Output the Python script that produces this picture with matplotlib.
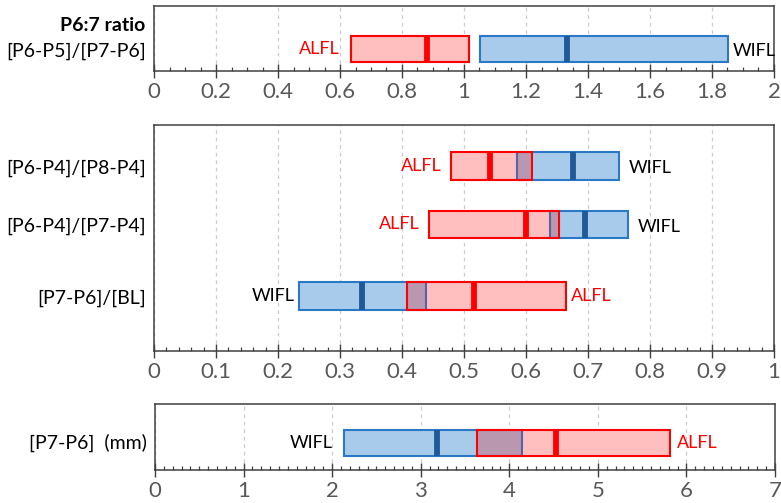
import matplotlib
matplotlib.use("Agg")
import matplotlib.pyplot as plt
from matplotlib.patches import Rectangle
from matplotlib.ticker import MultipleLocator, FuncFormatter

plt.rcParams['font.family'] = ['Lato', 'DejaVu Sans']

# ---- data: (lower quartile, median, upper quartile) ----
ratio_label = "[P6-P5]/[P7-P6]"
ratio_alfl = (0.635, 0.88, 1.015)
ratio_wifl = (1.052, 1.332, 1.853)

mid_labels = ["[P6-P4]/[P8-P4]", "[P6-P4]/[P7-P4]", "[P7-P6]/[BL]"]
mid_alfl = [(0.479, 0.542, 0.609), (0.444, 0.600, 0.653), (0.408, 0.516, 0.664)]
mid_wifl = [(0.585, 0.675, 0.750), (0.639, 0.695, 0.764), (0.234, 0.335, 0.438)]

mm_label = "[P7-P6]  (mm)"
mm_alfl = (3.64, 4.53, 5.815)
mm_wifl = (2.134, 3.18, 4.14)

# ---- styling ----
RED = "#ff0000"
PINK = "#ffbfbf"
BLUE_EDGE = "#2a78c6"
BLUE_FILL = "#a8cbec"
BLUE_MED = "#1f5a96"
PURPLE = "#b997ae"
PURPLE_EDGE = "#5f5f9e"
TICK_GREY = "#595959"
SPINE = "#404040"

W, H = 781, 503
fig = plt.figure(figsize=(W / 100, H / 100), dpi=100)


def axes_px(left, top, right, bottom):
    return fig.add_axes([left / W, 1 - bottom / H, (right - left) / W, (bottom - top) / H])


def style_axes(ax, xmax, major, minor):
    ax.set_xlim(0, xmax)
    ax.set_ylim(0, 1)
    ax.xaxis.set_major_locator(MultipleLocator(major))
    ax.xaxis.set_minor_locator(MultipleLocator(minor))
    ax.xaxis.set_major_formatter(FuncFormatter(lambda v, p: f"{v:g}"))
    ax.tick_params(axis='x', which='major', direction='inout', length=9.5, width=1.0,
                   color=SPINE, labelsize=16, labelcolor=TICK_GREY, pad=3.5)
    ax.tick_params(axis='x', which='minor', direction='in', length=3.2, width=0.9, color=SPINE)
    ax.set_yticks([])
    ax.grid(axis='x', which='major', linestyle=(0, (3, 3)), color="#cccccc", linewidth=0.9)
    ax.set_axisbelow(True)
    for s in ax.spines.values():
        s.set_color(SPINE)
        s.set_linewidth(1.1)


def draw_pair(ax, y, h, alfl, wifl, gaps):
    # fills
    ax.add_patch(Rectangle((wifl[0], y - h / 2), wifl[2] - wifl[0], h,
                           facecolor=BLUE_FILL, edgecolor='none', zorder=2))
    ax.add_patch(Rectangle((alfl[0], y - h / 2), alfl[2] - alfl[0], h,
                           facecolor=PINK, edgecolor='none', zorder=2))
    lo, hi = max(alfl[0], wifl[0]), min(alfl[2], wifl[2])
    if hi > lo:
        ax.add_patch(Rectangle((lo, y - h / 2), hi - lo, h,
                               facecolor=PURPLE, edgecolor='none', zorder=3))
    # outlines
    ax.add_patch(Rectangle((wifl[0], y - h / 2), wifl[2] - wifl[0], h,
                           facecolor='none', edgecolor=BLUE_EDGE, linewidth=1.5, zorder=4))
    if hi > lo:
        edge_x = wifl[0] if alfl[0] < wifl[0] else wifl[2]
        ax.plot([edge_x, edge_x], [y - h / 2, y + h / 2], color=PURPLE_EDGE,
                linewidth=1.2, zorder=5)
    ax.add_patch(Rectangle((alfl[0], y - h / 2), alfl[2] - alfl[0], h,
                           facecolor='none', edgecolor=RED, linewidth=1.5, zorder=6))
    # medians
    ax.plot([wifl[1]] * 2, [y - h / 2, y + h / 2], color=BLUE_MED, linewidth=4.2,
            solid_capstyle='butt', zorder=7)
    ax.plot([alfl[1]] * 2, [y - h / 2, y + h / 2], color=RED, linewidth=4.2,
            solid_capstyle='butt', zorder=7)
    # species names on the outer side of each box
    alfl_left = alfl[1] < wifl[1]
    g_left, g_right = gaps
    if alfl_left:
        ax.annotate("ALFL", (alfl[0], y), xytext=(-g_left, 0), textcoords='offset points',
                    ha='right', va='center', color=RED, fontsize=13)
        ax.annotate("WIFL", (wifl[2], y), xytext=(g_right, -1.5), textcoords='offset points',
                    ha='left', va='center', color='black', fontsize=13)
    else:
        ax.annotate("WIFL", (wifl[0], y), xytext=(-g_left, 0), textcoords='offset points',
                    ha='right', va='center', color='black', fontsize=13)
        ax.annotate("ALFL", (alfl[2], y), xytext=(g_right, 0), textcoords='offset points',
                    ha='left', va='center', color=RED, fontsize=13)


def row_label(ax, y, text, **kw):
    ax.annotate(text, (0, y), xycoords=('axes fraction', 'data'), xytext=(-6, 0),
                textcoords='offset points', ha='right', va='center', fontsize=14, **kw)


# ---- top panel: P6:7 ratio ----
ax1 = axes_px(154, 6, 774, 71)
style_axes(ax1, 2, 0.2, 0.05)
y_top, h_top = 0.335, 0.40
draw_pair(ax1, y_top, h_top, ratio_alfl, ratio_wifl, gaps=(8, 3))
ax1.annotate("P6:7 ratio", (0, 0.70), xycoords='axes fraction', xytext=(-6, 0),
             textcoords='offset points', ha='right', va='center', fontsize=14, fontweight='bold')
row_label(ax1, 0.31, ratio_label)

# ---- middle panel: length ratios ----
ax2 = axes_px(154, 125, 774, 351)
style_axes(ax2, 1, 0.1, 0.02)
mid_y = [0.819, 0.560, 0.245]
h_mid = 0.123
mid_gaps = [(7, 7), (7, 7), (3, 4)]
for lab, yy, a, w, g in zip(mid_labels, mid_y, mid_alfl, mid_wifl, mid_gaps):
    draw_pair(ax2, yy, h_mid, a, w, gaps=g)
    row_label(ax2, yy - 0.01, lab)

# ---- bottom panel: absolute distance ----
ax3 = axes_px(155, 404, 775, 470)
style_axes(ax3, 7, 1, 0.1)
y_bot, h_bot = 0.405, 0.40
draw_pair(ax3, y_bot, h_bot, mm_alfl, mm_wifl, gaps=(8, 5))
row_label(ax3, y_bot, mm_label)

fig.savefig("out.png", dpi=100)
